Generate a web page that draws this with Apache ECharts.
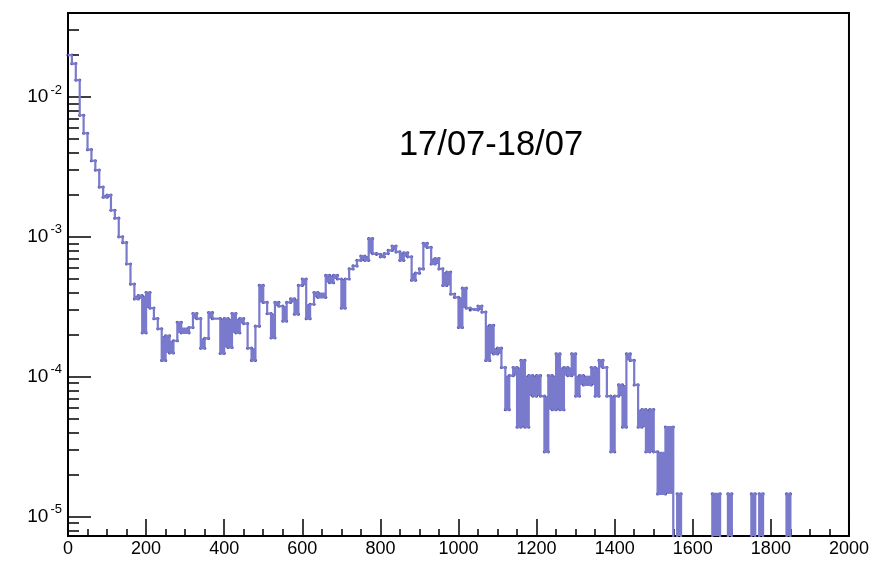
<!DOCTYPE html>
<html>
<head>
<meta charset="utf-8">
<script src="https://cdn.jsdelivr.net/npm/echarts@6/dist/echarts.min.js"></script>
<style>
  html, body { margin: 0; padding: 0; background: #ffffff; }
  #chart { width: 872px; height: 563px; }
</style>
</head>
<body>
<div id="chart"></div>
<script>
// Histogram binning (x axis)
const binWidth = 10;
const xMin = 0;
const xMax = 2000;
const xTickStep = 200;

// Decade positions labelled on the logarithmic y axis (powers of ten)
const yDecades = [-5, -4, -3, -2];

// Period label drawn inside the frame
const periodLabel = '17/07-18/07';

// Normalised bin contents, one entry per 10-unit bin from 0 to 2000
const binValues = [
  1.99e-2, 1.73e-2, 1.32e-2, 7.4e-3, 5.5e-3, 4.2e-3, 3.5e-3, 3.0e-3, 2.27e-3, 1.92e-3,
  1.99e-3, 1.55e-3, 1.36e-3, 1.00e-3, 9.1e-4, 6.4e-4, 4.6e-4, 3.6e-4, 3.8e-4, 2.06e-4,
  4.0e-4, 3.1e-4, 2.6e-4, 2.2e-4, 1.31e-4, 1.96e-4, 1.48e-4, 1.81e-4, 2.45e-4, 2.06e-4,
  2.06e-4, 2.25e-4, 2.83e-4, 2.6e-4, 1.6e-4, 1.88e-4, 2.88e-4, 2.6e-4, 2.6e-4, 1.47e-4,
  2.6e-4, 1.62e-4, 2.83e-4, 2.06e-4, 2.6e-4, 2.4e-4, 1.6e-4, 1.31e-4, 2.3e-4, 4.5e-4,
  3.4e-4, 2.83e-4, 1.9e-4, 3.4e-4, 3.2e-4, 2.5e-4, 3.4e-4, 3.6e-4, 2.8e-4, 4.5e-4,
  5.0e-4, 2.6e-4, 3.3e-4, 4.0e-4, 3.7e-4, 3.7e-4, 5.3e-4, 4.7e-4, 5.3e-4, 5.0e-4,
  3.1e-4, 5.0e-4, 5.9e-4, 6.2e-4, 6.8e-4, 7.3e-4, 6.8e-4, 9.7e-4, 7.6e-4, 7.5e-4,
  7.2e-4, 7.6e-4, 8.0e-4, 8.6e-4, 7.8e-4, 6.8e-4, 7.7e-4, 7.2e-4, 4.9e-4, 5.5e-4,
  5.9e-4, 9.0e-4, 8.4e-4, 6.4e-4, 7.0e-4, 5.9e-4, 4.5e-4, 5.6e-4, 3.9e-4, 3.7e-4,
  2.25e-4, 4.3e-4, 3.1e-4, 3.0e-4, 3.0e-4, 3.2e-4, 2.9e-4, 1.31e-4, 2.33e-4, 1.456e-4,
  1.602e-4, 1.165e-4, 5.82e-5, 1.019e-4, 1.165e-4, 4.37e-5, 1.31e-4, 4.37e-5, 1.019e-4, 7.28e-5,
  1.019e-4, 7.28e-5, 2.91e-5, 1.019e-4, 5.82e-5, 1.456e-4, 5.82e-5, 1.165e-4, 1.019e-4, 1.456e-4,
  7.28e-5, 1.019e-4, 8.74e-5, 8.74e-5, 1.165e-4, 7.28e-5, 1.31e-4, 1.165e-4, 7.28e-5, 2.91e-5,
  7.28e-5, 8.74e-5, 4.37e-5, 1.456e-4, 1.31e-4, 8.74e-5, 4.37e-5, 5.82e-5, 2.91e-5, 5.82e-5,
  2.91e-5, 1.456e-5, 1.456e-5, 4.37e-5, 4.37e-5, 0, 1.456e-5, 0, 0, 0,
  0, 0, 0, 0, 0, 1.456e-5, 1.456e-5, 0, 0, 1.456e-5,
  0, 0, 0, 0, 0, 1.456e-5, 0, 1.456e-5, 0, 0,
  0, 0, 0, 0, 1.456e-5, 0, 0, 0, 0, 0,
  0, 0, 0, 0, 0, 0, 0, 0, 0, 0
];

// ---- derived quantities ----
const lineColor = '#7a7acd';
const dotColor = '#1e1e8c';
const fontFamily = '"Liberation Sans", Arial, Helvetica, sans-serif';

const positive = binValues.filter(v => v > 0);
const yLo = Math.log10(0.5 * Math.min(...positive));
const yHi = Math.log10(2 * Math.max(...positive));
const offScale = yLo - 3;          // empty bins fall below the frame
const lg = v => (v > 0 ? Math.log10(v) : offScale);
const lgClamp = v => (v > 0 ? Math.log10(v) : yLo);

// minor ticks at 2..9 x 10^k inside the axis range
const yMinorTicks = [];
for (let d = -7; d <= 0; d++) {
  for (let k = 2; k <= 9; k++) {
    const t = d + Math.log10(k);
    if (t > yLo && t < yHi) yMinorTicks.push(t);
  }
}

// step outline: one point per bin lower edge, plus the closing edge
const n = binValues.length;
const stepData = binValues.map((v, i) => [xMin + i * binWidth, lg(v)]);
stepData.push([xMin + n * binWidth, lg(binValues[n - 1])]);

// narrow peaks and dips are shaded between their two vertical edges
const shadeData = [];
for (let i = 0; i < n; ) {
  let j = i;
  while (j + 1 < n && binValues[j + 1] === binValues[i]) j++;
  const v = binValues[i];
  if (v > 0 && i > 0 && j < n - 1 && j - i < 2) {
    const L = binValues[i - 1], R = binValues[j + 1];
    const x0 = xMin + i * binWidth, x1 = xMin + (j + 1) * binWidth;
    if (v > L && v > R) shadeData.push([x0, x1, lgClamp(Math.max(L, R)), lg(v)]);
    else if (v < L && v < R) shadeData.push([x0, x1, lg(v), lgClamp(Math.min(L, R))]);
  }
  i = j + 1;
}

// darker joints at the ends of each horizontal segment
const jointData = [];
binValues.forEach((v, i) => {
  if (v <= 0) return;
  if (i === 0 || binValues[i - 1] !== v) jointData.push([xMin + i * binWidth, lg(v)]);
  if (i === n - 1 || binValues[i + 1] !== v) jointData.push([xMin + (i + 1) * binWidth, lg(v)]);
});

const chart = echarts.init(document.getElementById('chart'), null, { renderer: 'canvas' });

chart.setOption({
  animation: false,
  backgroundColor: '#ffffff',
  grid: {
    left: 68, right: 22, top: 13, bottom: 27,
    show: true, borderColor: '#000000', borderWidth: 2,
    backgroundColor: 'transparent'
  },
  xAxis: {
    type: 'value',
    min: xMin, max: xMax, interval: xTickStep,
    axisLine: { show: false, onZero: false },
    splitLine: { show: false },
    axisTick: { show: true, inside: true, length: 17, lineStyle: { color: '#000', width: 1.5 } },
    minorTick: { show: true, splitNumber: 4, length: 7, lineStyle: { color: '#000', width: 1.5 } },
    axisLabel: {
      color: '#000', fontSize: 18, fontFamily: fontFamily, margin: 4,
      formatter: v => String(Math.round(v))
    }
  },
  yAxis: [
    {
      type: 'value', position: 'left',
      min: yLo, max: yHi,
      axisLine: { show: false, onZero: false },
      splitLine: { show: false },
      axisTick: { show: true, inside: true, length: 23, customValues: yDecades,
                  lineStyle: { color: '#000', width: 1.5 } },
      axisLabel: {
        show: true, margin: 6, customValues: yDecades,
        fontSize: 18, fontFamily: fontFamily, color: '#000',
        formatter: v => '{b|10}{s|' + Math.round(v) + '}',
        rich: {
          b: { fontSize: 19, fontFamily: fontFamily, color: '#000' },
          s: { fontSize: 13, fontFamily: fontFamily, color: '#000', padding: [0, 0, 14, 2] }
        }
      }
    },
    {
      type: 'value', position: 'left',
      min: yLo, max: yHi,
      axisLine: { show: false, onZero: false },
      splitLine: { show: false },
      axisLabel: { show: false },
      axisTick: { show: true, inside: true, length: 11, customValues: yMinorTicks,
                  lineStyle: { color: '#000', width: 1.5 } }
    }
  ],
  series: [
    {
      type: 'custom',
      name: 'shade',
      coordinateSystem: 'cartesian2d',
      clip: true,
      silent: true,
      encode: { x: [0, 1], y: [2, 3] },
      data: shadeData,
      renderItem: (params, api) => {
        const p0 = api.coord([api.value(0), api.value(3)]);
        const p1 = api.coord([api.value(1), api.value(2)]);
        return {
          type: 'rect',
          shape: { x: p0[0], y: p0[1], width: p1[0] - p0[0], height: p1[1] - p0[1] },
          style: { fill: lineColor }
        };
      }
    },
    {
      type: 'line',
      name: 'outline',
      step: 'end',
      data: stepData,
      showSymbol: false,
      clip: true,
      silent: true,
      lineStyle: { color: lineColor, width: 2.2 }
    },
    {
      type: 'scatter',
      name: 'joints',
      data: jointData,
      symbol: 'circle',
      symbolSize: 3.2,
      clip: true,
      silent: true,
      itemStyle: { color: dotColor }
    }
  ],
  graphic: [
    {
      type: 'text',
      x: 491, y: 145,
      style: {
        text: periodLabel,
        font: '34.5px ' + fontFamily,
        fontSize: 34.5, fontFamily: fontFamily,
        fill: '#000000',
        align: 'center', verticalAlign: 'middle',
        textAlign: 'center', textVerticalAlign: 'middle'
      }
    }
  ]
});
</script>
</body>
</html>
